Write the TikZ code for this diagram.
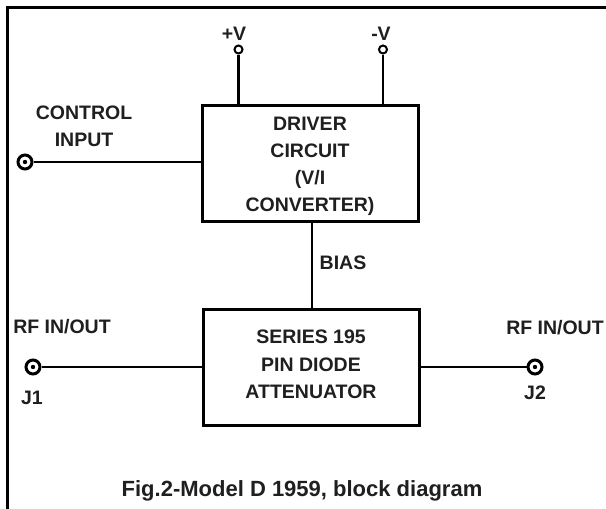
\documentclass[tikz,border=0pt]{standalone}
\usepackage{fontspec}
\setmainfont{Liberation Sans}
\begin{document}
\begin{tikzpicture}[x=1pt,y=-1pt,
  lbl/.style={font=\bfseries\fontsize{19.5}{23}\selectfont, text=black!88, inner sep=0pt, align=center},
  wire/.style={draw=black, line width=2.6pt},
  blk/.style={draw=black, line width=3pt, minimum width=216pt, minimum height=116pt, inner sep=0pt},
  term/.style={circle, draw=black, line width=2pt, fill=white, minimum size=8pt, inner sep=0pt},
  coax/.style={circle, draw=black, line width=3pt, fill=white, minimum size=14pt, inner sep=0pt,
    path picture={\fill[black] (path picture bounding box.center) circle (2.2pt);}}
]
\useasboundingbox (0,0) rectangle (606,509);
\fill[white] (0,0) rectangle (606,509);
% frame
\draw[line width=3.5pt] (7.5,509) -- (7.5,7.5) -- (606,7.5);
% blocks
\node[blk] (drv) at (310,163) {};
\node[lbl] (drvt1) at (310,124) {DRIVER};
\node[lbl] (drvt2) at (310,151) {CIRCUIT};
\node[lbl] (drvt3) at (310,179) {(V/I};
\node[lbl] (drvt4) at (310,206) {CONVERTER)};
\node[blk] (att) at (311,367) {};
\node[lbl] (attt1) at (311,337) {SERIES 195};
\node[lbl] (attt2) at (311,365) {PIN DIODE};
\node[lbl] (attt3) at (311,392) {ATTENUATOR};
% supply terminals
\node[term] (pv) at (238.5,49.5) {};
\node[term] (nv) at (383,49.5) {};
\node[lbl] (pvl) at (234,34) {+V};
\node[lbl] (nvl) at (381,34) {-V};
\draw[wire] (pv) -- (pv |- drv.north);
\draw[wire] (nv) -- (nv |- drv.north);
% control input
\node[coax] (ci) at (25,162) {};
\node[lbl] (cil1) at (84,113) {CONTROL};
\node[lbl] (cil2) at (84,140) {INPUT};
\draw[wire] (ci) -- (ci -| drv.west);
% bias
\draw[wire] (drv.south -| 312,0) -- (att.north -| 312,0);
\node[lbl] (bias) at (343,263) {BIAS};
% RF ports
\node[coax] (j1) at (33,367) {};
\node[coax] (j2) at (535,367) {};
\node[lbl] (rf1) at (62,327) {RF IN/OUT};
\node[lbl] (rf2) at (555,328) {RF IN/OUT};
\node[lbl] (j1l) at (32,398) {J1};
\node[lbl] (j2l) at (535,393) {J2};
\draw[wire] (j1) -- (j1 -| att.west);
\draw[wire] (j2) -- (j2 -| att.east);
% caption
\node[font=\bfseries\fontsize{22}{26}\selectfont, text=black!88, inner sep=0pt] (cap) at (302,491) {Fig.2-Model D 1959, block diagram};
\end{tikzpicture}
\end{document}
